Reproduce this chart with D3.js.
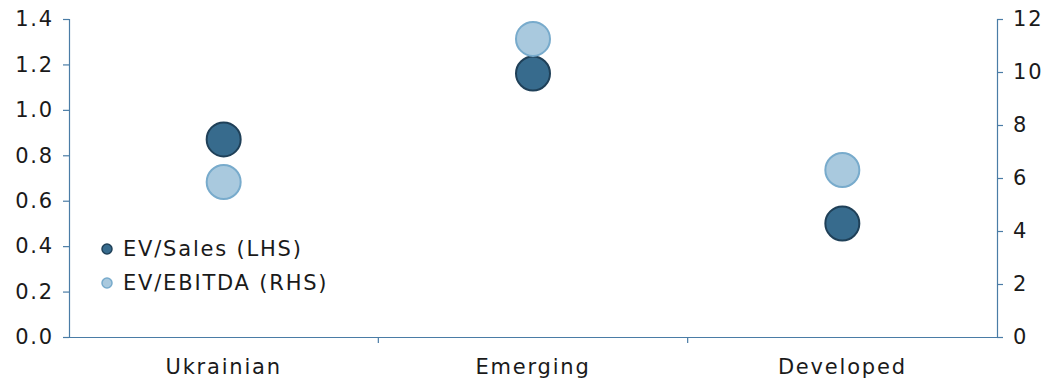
<!DOCTYPE html>
<html>
<head>
<meta charset="utf-8">
<script src="https://cdn.jsdelivr.net/npm/d3@7"></script>
<style>
  body { margin: 0; background: #fff; }
  text { font-family: "DejaVu Sans", Verdana, sans-serif; fill: #1a1a1a; }
</style>
</head>
<body>
<div id="chart"></div>
<script>
const categories = ['Ukrainian', 'Emerging', 'Developed'];
const evSales = [0.87, 1.16, 0.50];
const evEbitda = [5.85, 11.25, 6.3];
const leftTicks = [0, 0.2, 0.4, 0.6, 0.8, 1.0, 1.2, 1.4];
const rightTicks = [0, 2, 4, 6, 8, 10, 12];
const seriesNames = ['EV/Sales (LHS)', 'EV/EBITDA (RHS)'];

const W = 1059, H = 382;
const plotLeft = 69, plotRight = 997, plotTop = 19, plotBottom = 337;
const axisColor = '#4a7ca6';
const dark = {fill: '#376b8d', stroke: '#1f4058'};
const light = {fill: '#a9c9de', stroke: '#78abcc'};
const fontSize = '21px', spacing = '1.8px';

const svg = d3.select('#chart').append('svg').attr('width', W).attr('height', H);

const x = d3.scaleBand().domain(categories).range([plotLeft, plotRight]).padding(0);
const yL = d3.scaleLinear().domain([0, 1.4]).range([plotBottom, plotTop]);
const yR = d3.scaleLinear().domain([0, 12]).range([plotBottom, plotTop]);

// left axis
const gL = svg.append('g').attr('transform', `translate(${plotLeft},0)`)
  .call(d3.axisLeft(yL).tickValues(leftTicks).tickFormat(d3.format('.1f')).tickSize(6).tickPadding(9));
// right axis
const gR = svg.append('g').attr('transform', `translate(${plotRight},0)`)
  .call(d3.axisRight(yR).tickValues(rightTicks).tickFormat(d3.format('d')).tickSize(6).tickPadding(10));
[gL, gR].forEach(g => {
  g.select('.domain').attr('stroke', axisColor).attr('stroke-width', 1.2);
  g.selectAll('.tick line').attr('stroke', axisColor).attr('stroke-width', 1.2);
  g.selectAll('.tick text').style('font-size', fontSize).style('letter-spacing', spacing).attr('fill', '#1a1a1a');
});

// bottom axis
const gB = svg.append('g').attr('transform', `translate(0,${plotBottom})`)
  .call(d3.axisBottom(x).tickSize(0).tickPadding(22));
gB.select('.domain').attr('stroke', axisColor).attr('stroke-width', 1.2);
gB.selectAll('.tick text').style('font-size', fontSize).style('letter-spacing', spacing).attr('fill', '#1a1a1a');
gB.selectAll('.boundary').data(categories.slice(1)).enter().append('line')
  .attr('x1', d => x(d)).attr('x2', d => x(d)).attr('y1', 0).attr('y2', 6)
  .attr('stroke', axisColor).attr('stroke-width', 1.2);

const cx = d => x(d) + x.bandwidth() / 2;

svg.append('g').selectAll('circle').data(categories).enter().append('circle')
  .attr('cx', cx).attr('cy', (d, i) => yL(evSales[i])).attr('r', 17)
  .attr('fill', dark.fill).attr('stroke', dark.stroke).attr('stroke-width', 2);

svg.append('g').selectAll('circle').data(categories).enter().append('circle')
  .attr('cx', cx).attr('cy', (d, i) => yR(evEbitda[i])).attr('r', 17)
  .attr('fill', light.fill).attr('stroke', light.stroke).attr('stroke-width', 2);

// legend
const legend = svg.append('g').attr('transform', 'translate(107,249)');
[dark, light].forEach((s, i) => {
  const row = legend.append('g').attr('transform', `translate(0,${i * 34})`);
  row.append('circle').attr('r', 5).attr('fill', s.fill).attr('stroke', s.stroke).attr('stroke-width', 1.5);
  row.append('text').attr('x', 16).attr('dy', '0.35em')
    .style('font-size', fontSize).style('letter-spacing', spacing).text(seriesNames[i]);
});
</script>
</body>
</html>
